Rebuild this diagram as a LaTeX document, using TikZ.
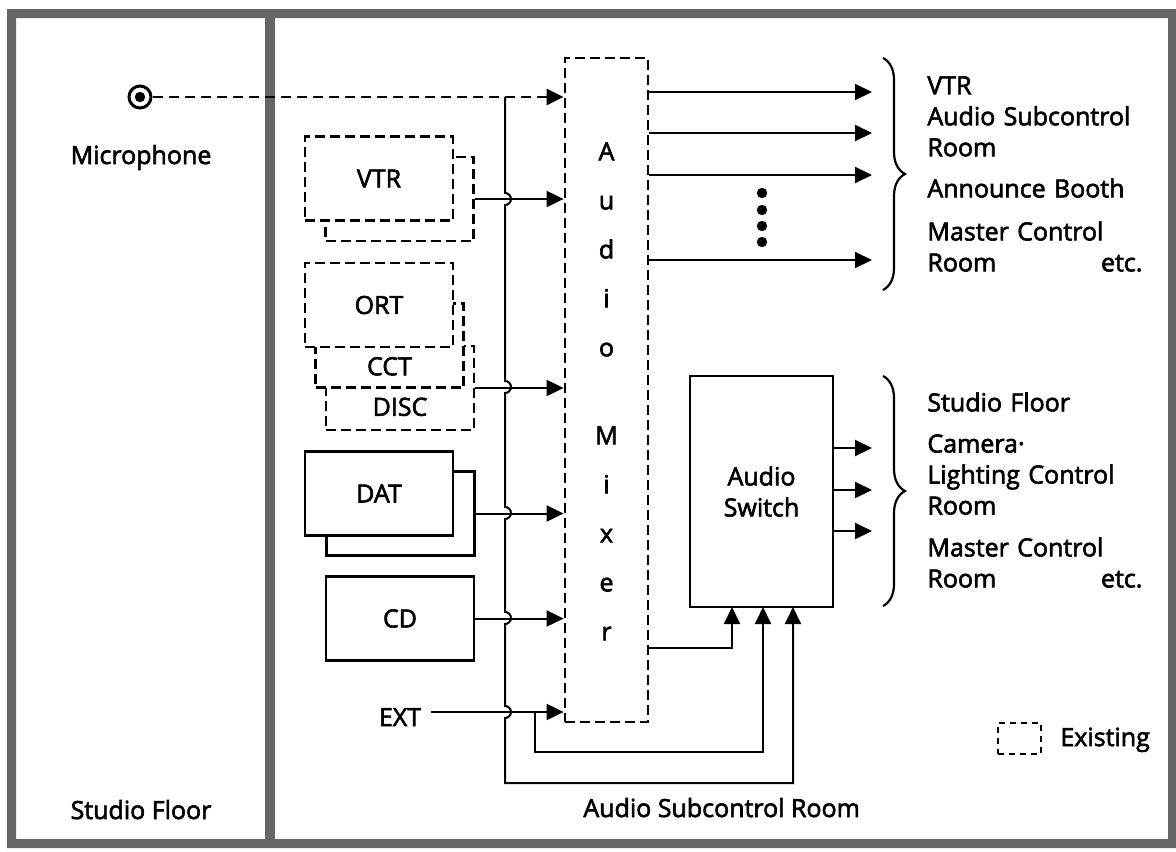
\documentclass[tikz,border=0pt]{standalone}
\usepackage{fontspec}
\setmainfont{Open Sans}[FakeBold=2.4]
\usetikzlibrary{positioning, arrows.meta, decorations.pathreplacing, calc}

\begin{document}
\begin{tikzpicture}[
        x=0.5pt, y=-0.5pt, >={Triangle[length=8.5pt, width=8pt]},
        font=\fontsize{12.5}{15.5}\selectfont,
        band/.style={fill=black!60},
        box/.style={rectangle, draw, line width=1.4pt, fill=white, minimum width=74pt, minimum height=42pt, inner sep=0pt},
        oldbox/.style={box, dash pattern=on 5pt off 2.5pt},
        wire/.style={line width=1pt},
        oldwire/.style={wire, line width=1.2pt, dash pattern=on 5pt off 3pt},
        lbl/.style={inner sep=0pt},
        dest/.style={lbl, anchor=north west, align=left, text width=107.5pt},
        brace/.style={decorate, decoration={brace, amplitude=11pt}, line width=1.1pt},
    ]
    \useasboundingbox (0,0) rectangle (1176,851);
    % frame and room divider
    \fill[band, even odd rule] (7,9) rectangle (1176,848) (16,18) rectangle (1168,839);
    \fill[band] (265,18) rectangle (275,839);
    % studio floor
    \node[circle, draw, line width=1.5pt, minimum size=11pt, inner sep=0pt] (mic) at (140,97) {};
    \fill (mic.center) circle (2.6pt);
    \node[lbl, anchor=base] (micLbl) at (141,164) {Microphone};
    \node[lbl, anchor=base] (floorLbl) at (141,819) {Studio Floor};
    % sources
    \node[oldbox] (vtrBack) at (399.5,199) {};
    \node[oldbox] (vtr) at (379,178.5) {VTR};
    \node[oldbox] (disc) at (400,388) {};
    \node[oldbox] (cct) at (389.5,345.5) {};
    \node[oldbox] (ort) at (379,305) {ORT};
    \node[lbl, above=6.5pt of cct.south] (cctLbl) {CCT};
    \node[lbl, above=7.5pt of disc.south] (discLbl) {DISC};
    \node[box] (datBack) at (400.5,513.5) {};
    \node[box] (dat) at (379,493.5) {DAT};
    \node[box] (cd) at (400,618.5) {CD};
    \node[lbl, anchor=base] (extLbl) at (400,726) {EXT};
    % mixer and switch
    \node[oldbox, minimum width=41.5pt, minimum height=332pt, fill=none] (mixer) at (606.5,390) {};
    \node[lbl, anchor=north, align=center, font=\fontsize{12.5}{24.5}\selectfont] (mixLbl) at (606.5,142) {A\\u\\d\\i\\o\\[19.5pt]M\\i\\x\\e\\r};
    \node[box, minimum width=71.5pt, minimum height=115.5pt, align=center] (switch) at (761.5,491.5) {Audio\\Switch};
    \node[lbl, anchor=base west] (subLbl) at (583,817) {Audio Subcontrol Room};
    % outputs
    \coordinate (tipA) at (872,92);
    \coordinate (tipB) at (872,133);
    \coordinate (tipC) at (872,175);
    \coordinate (tipD) at (872,260);
    \coordinate (tipE) at (872,448);
    \coordinate (tipF) at (872,490);
    \coordinate (tipG) at (872,531);
    \coordinate (swinA) at (732,607);
    \coordinate (swinB) at (763,607);
    \coordinate (swinC) at (793,607);
    \coordinate (busTop) at (505,97);
    \coordinate (extSplit) at (535,712);
    % connections
    \draw[oldwire, ->] (mic) -- (mic -| mixer.west);
    \draw[wire, ->] (vtrBack.east) -- (vtrBack.east -| mixer.west);
    \draw[wire, ->] (disc.east) -- (disc.east -| mixer.west);
    \draw[wire, ->] (datBack.east) -- (datBack.east -| mixer.west);
    \draw[wire, ->] (cd.east) -- (cd.east -| mixer.west);
    \draw[wire, ->] ([xshift=5pt]extLbl.east |- extSplit) -- (extSplit -| mixer.west);
    \draw[wire, ->] (busTop) -- (505,193) arc[start angle=90, end angle=-90, radius=3pt]
        -- (505,381) arc[start angle=90, end angle=-90, radius=3pt]
        -- (505,507) arc[start angle=90, end angle=-90, radius=3pt]
        -- (505,612) arc[start angle=90, end angle=-90, radius=3pt]
        -- (505,706) arc[start angle=90, end angle=-90, radius=3pt]
        -- (505,783) -| (swinC);
    \draw[wire, ->] (extSplit) -- ++(0,40) -| (swinB);
    \draw[wire, ->] ($(mixer.south east)+(0,-75)$) -| (swinA);
    \draw[wire, ->] (mixer.east |- tipA) -- (tipA);
    \draw[wire, ->] (mixer.east |- tipB) -- (tipB);
    \draw[wire, ->] (mixer.east |- tipC) -- (tipC);
    \draw[wire, ->] (mixer.east |- tipD) -- (tipD);
    \draw[wire, ->] (switch.east |- tipE) -- (tipE);
    \draw[wire, ->] (switch.east |- tipF) -- (tipF);
    \draw[wire, ->] (switch.east |- tipG) -- (tipG);
    \foreach \y in {193,210,226,242} \fill (762,\y) circle (2.6pt);
    % destinations
    \draw[brace] (883,58) -- (883,290);
    \draw[brace] (883,376) -- (883,606);
    \node[dest] (dstVtr) at (927,76) {VTR\\Audio Subcontrol\\Room};
    \node[dest] (dstBooth) at (927,178) {Announce Booth};
    \node[dest] (dstMaster) at (927,221) {Master Control\\Room\hfill etc.};
    \node[dest] (dstFloor) at (927,392) {Studio Floor};
    \node[dest] (dstCamera) at (927,434) {Camera·\\Lighting Control\\Room};
    \node[dest] (dstMasterB) at (927,537) {Master Control\\Room\hfill etc.};
    % legend
    \node[oldbox, minimum width=21.5pt, minimum height=15.5pt, line width=1pt, dash pattern=on 3pt off 2.5pt] (legBox) at (1019.5,738.5) {};
    \node[lbl, anchor=base west] (legLbl) at (1060,746) {Existing};
\end{tikzpicture}
\end{document}
